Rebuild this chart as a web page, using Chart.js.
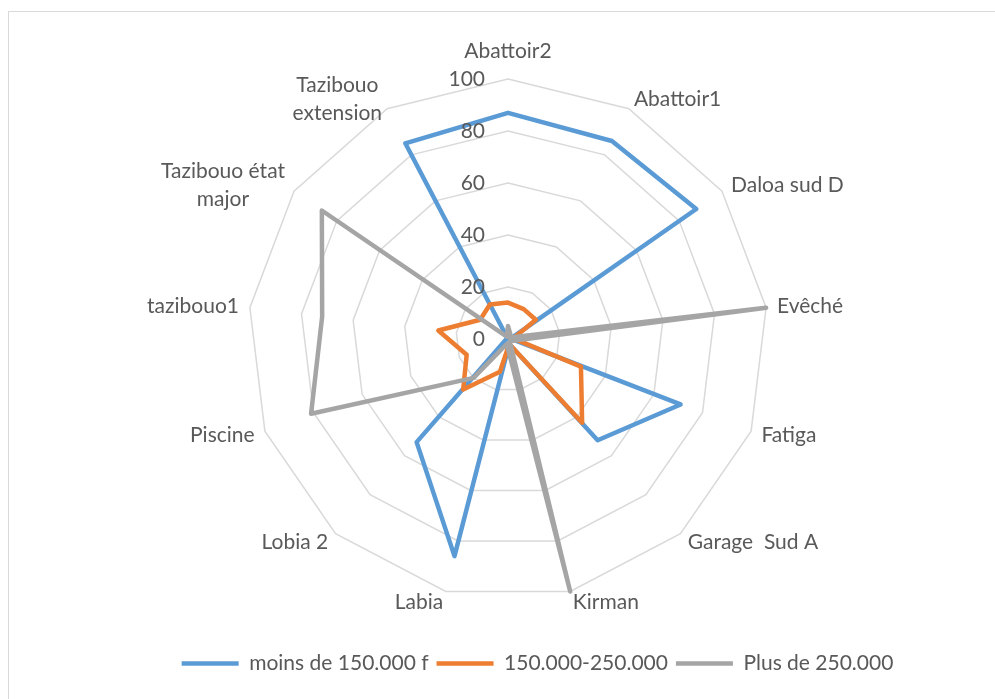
<!DOCTYPE html>
<html><head><meta charset="utf-8">
<script src="https://cdn.jsdelivr.net/npm/chart.js@4.4.0/dist/chart.umd.min.js"></script>
<style>
html,body{margin:0;padding:0;background:#fff;overflow:hidden;width:995px;height:699px;}
#frame{position:absolute;left:8px;top:11px;width:1200px;height:1000px;border:1px solid #d9d9d9;}
canvas{position:absolute;left:0;top:0;}
</style></head><body>
<div id="frame"></div>
<canvas id="c" width="995" height="699"></canvas>
<script>
const categories = ['Abattoir2','Abattoir1','Daloa sud D','Evêché','Fatiga','Garage  Sud A','Kirman','Labia','Lobia 2','Piscine','tazibouo1',['Tazibouo état','major'],['Tazibouo','extension']];
const seriesNames = ['moins de 150.000 f','150.000-250.000','Plus de 250.000'];
const lowIncome  = [87, 86, 88, 1, 71, 52, 2, 86, 53, 1, 0, 0, 85];
const midIncome  = [14, 13, 13, 2, 30, 43, 2, 13, 26, 17, 27, 13, 15];
const highIncome = [5, 2, 1, 100, 2, 1, 100, 2, 20, 81, 72, 87, 1];
const tickValues = [0, 20, 40, 60, 80, 100];

const FONT_FAMILY = 'Lato';
const TEXT = '#595959';

const labelPlugin = {
  id: 'excelLabels',
  afterDraw(chart) {
    const s = chart.scales.r, ctx = chart.ctx;
    ctx.save();
    ctx.fillStyle = TEXT;
    ctx.font = '21px ' + FONT_FAMILY;
    ctx.textBaseline = 'middle';
    ctx.textAlign = 'right';
    s.ticks.forEach(t => {
      const d = s.getDistanceFromCenterForValue(t.value);
      ctx.fillText(String(t.value), s.xCenter - 23, s.yCenter - d);
    });
    const lineH = 28;
    chart.data.labels.forEach((lab, i) => {
      const p = s.getPointPosition(i, s.drawingArea + 11);
      const dx = p.x - s.xCenter;
      const lines = Array.isArray(lab) ? lab : [lab];
      const w = Math.max(...lines.map(l => ctx.measureText(l).width));
      let cx, cy = p.y;
      if (Math.abs(dx) < 2) { cx = p.x; cy = p.y - 17; }
      else if (dx > 0) cx = p.x + w / 2;
      else cx = p.x - w / 2;
      ctx.textAlign = 'center';
      lines.forEach((ln, k) => ctx.fillText(ln, cx, cy + (k - (lines.length - 1) / 2) * lineH));
    });
    ctx.restore();
  }
};

const mk = (label, data, color, order) => ({
  label, data, borderColor: color, backgroundColor: color, borderWidth: 4.5,
  fill: false, pointRadius: 0, pointHoverRadius: 0, order,
  borderJoinStyle: 'round', borderCapStyle: 'round', tension: 0
});

new Chart(document.getElementById('c'), {
  type: 'radar',
  data: {
    labels: categories,
    datasets: [
      mk(seriesNames[0], lowIncome, '#5B9BD5', 3),
      mk(seriesNames[1], midIncome, '#ED7D31', 2),
      mk(seriesNames[2], highIncome, '#A5A5A5', 1)
    ]
  },
  options: {
    responsive: false, animation: false, devicePixelRatio: 1,
    layout: { padding: { left: 80, bottom: 15 } },
    plugins: {
      tooltip: { enabled: false },
      legend: {
        position: 'bottom',
        labels: {
          usePointStyle: true, pointStyle: 'line', pointStyleWidth: 57,
          color: TEXT, font: { family: FONT_FAMILY, size: 21 }, padding: 8,
          sort: (a, b) => a.datasetIndex - b.datasetIndex
        }
      }
    },
    scales: {
      r: {
        min: tickValues[0], max: tickValues[tickValues.length - 1],
        ticks: { stepSize: tickValues[1] - tickValues[0], display: false },
        grid: { color: '#d9d9d9', lineWidth: 1.5, circular: false },
        angleLines: { display: false },
        pointLabels: { display: false },
        afterFit: (sc) => { sc.drawingArea = 260; sc.xCenter = 508; sc.yCenter = 339; }
      }
    }
  },
  plugins: [labelPlugin]
});
</script>
</body></html>
